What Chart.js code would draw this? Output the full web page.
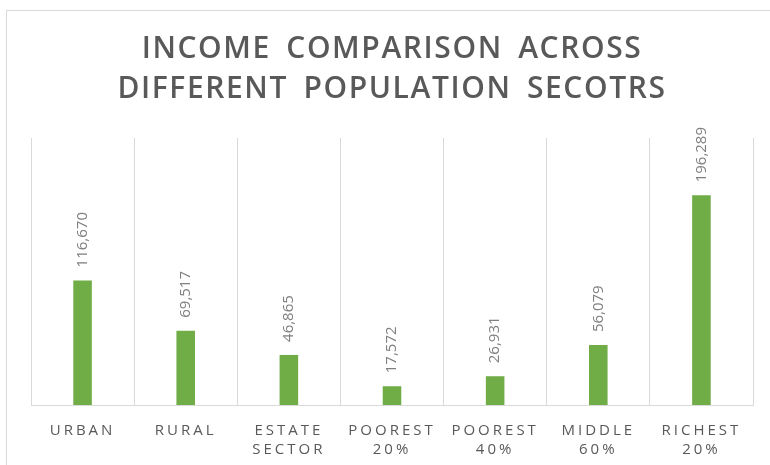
<!DOCTYPE html>
<html>
<head>
<meta charset="utf-8">
<script src="https://cdn.jsdelivr.net/npm/chart.js@4.4.1/dist/chart.umd.min.js"></script>
<style>
  body { margin: 0; background: #fff; }
  #wrap { position: relative; width: 770px; height: 465px; overflow: hidden; }
  #frame { position: absolute; left: 6px; top: 10px; width: 800px; height: 500px; border: 1px solid #d9d9d9; }
  #incomeChart { position: absolute; left: 0; top: 0; }
</style>
</head>
<body>
<div id="wrap">
  <div id="frame"></div>
  <canvas id="incomeChart" width="770" height="465"></canvas>
</div>
<script>
// categories and values
var categories = [['URBAN'], ['RURAL'], ['ESTATE', 'SECTOR'], ['POOREST', '20%'], ['POOREST', '40%'], ['MIDDLE', '60%'], ['RICHEST', '20%']];
var incomeValues = [116670, 69517, 46865, 17572, 26931, 56079, 196289];
var titleLines = ['INCOME COMPARISON ACROSS', 'DIFFERENT POPULATION SECOTRS'];

// letter spacing: Chart.js doesn't do this itself, so set it on the context
var spacingPlugin = {
  id: 'spacing',
  beforeDraw: function(chart) {
    chart.ctx.letterSpacing = '3px';
    var tb = chart.titleBlock;
    if (tb && !tb._spaced) {
      var origDraw = tb.draw;
      tb.draw = function() {
        var c = chart.ctx;
        c.save();
        c.letterSpacing = '1.6px';
        c.wordSpacing = '6px';
        origDraw.apply(this, arguments);
        c.restore();
      };
      tb._spaced = true;
    }
  }
};

// value labels rotated above each bar
var barLabels = {
  id: 'barLabels',
  afterDatasetsDraw: function(chart) {
    var ctx = chart.ctx;
    var meta = chart.getDatasetMeta(0);
    ctx.save();
    ctx.letterSpacing = '0px';
    ctx.font = '15px "Open Sans"';
    ctx.fillStyle = '#7f7f7f';
    ctx.textAlign = 'left';
    ctx.textBaseline = 'middle';
    meta.data.forEach(function(bar, i) {
      ctx.save();
      ctx.translate(bar.x, bar.y - 13);
      ctx.rotate(-Math.PI / 2);
      ctx.fillText(incomeValues[i].toLocaleString('en-US'), 0, 0);
      ctx.restore();
    });
    ctx.restore();
  }
};

var ctx = document.getElementById('incomeChart').getContext('2d');
var incomeChart = new Chart(ctx, {
  type: 'bar',
  data: {
    labels: categories,
    datasets: [{
      data: incomeValues,
      backgroundColor: '#70ad47',
      barPercentage: 0.18,
      categoryPercentage: 1
    }]
  },
  options: {
    responsive: false,
    animation: false,
    layout: { padding: { left: 31, right: 17, top: 0, bottom: 0 } },
    plugins: {
      legend: { display: false },
      tooltip: { enabled: false },
      title: {
        display: true,
        text: titleLines,
        color: '#595959',
        font: { family: '"Open Sans"', size: 30, weight: '600', lineHeight: 1.333 },
        padding: { top: 29, bottom: 29 }
      }
    },
    scales: {
      x: {
        grid: { offset: true, color: '#d9d9d9', drawTicks: false },
        border: { color: '#d9d9d9' },
        ticks: {
          color: '#595959',
          padding: 16,
          maxRotation: 0,
          font: { family: '"Open Sans"', size: 15, lineHeight: 1.27 }
        },
        afterFit: function(scale) { scale.height = 60; }
      },
      y: {
        display: false,
        min: 0,
        max: 250000
      }
    }
  },
  plugins: [spacingPlugin, barLabels]
});
</script>
</body>
</html>
